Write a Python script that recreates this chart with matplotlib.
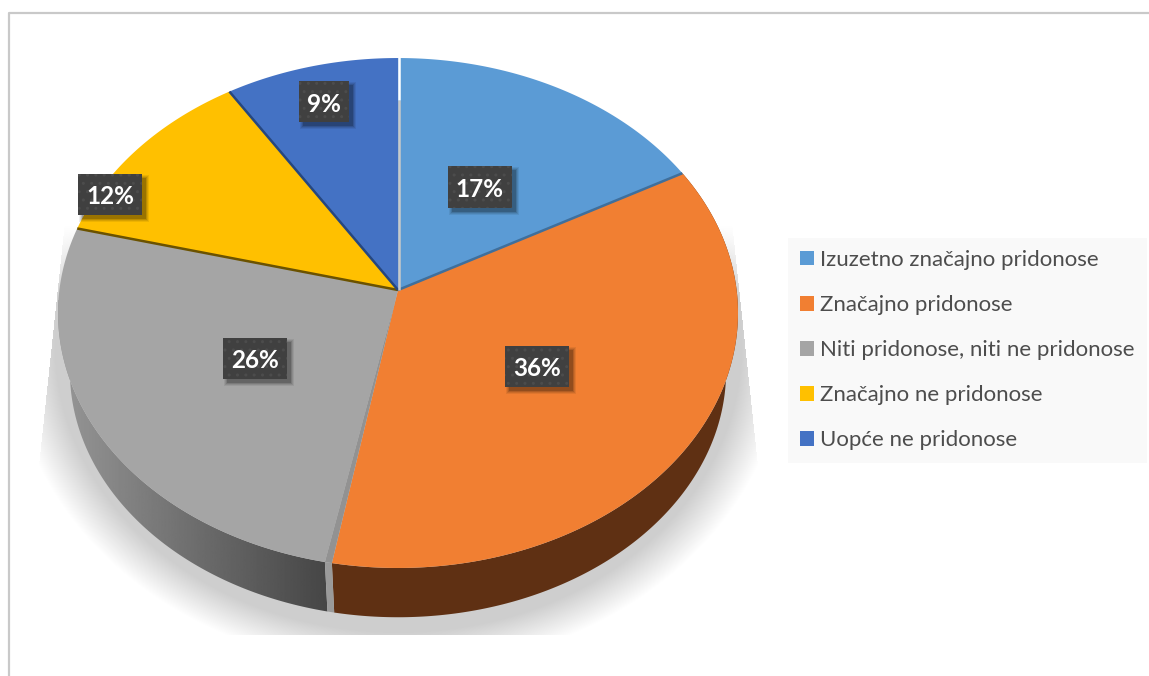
#Import necessary libraries
import numpy as np
import matplotlib.pyplot as plt
from matplotlib.patches import Patch, Polygon, Rectangle

categories = ['Izuzetno značajno pridonose', 'Značajno pridonose', 'Niti pridonose, niti ne pridonose',
              'Značajno ne pridonose', 'Uopće ne pridonose']
shares = [17, 36, 26, 12, 9]

colors = ['#5b9bd5', '#f17f32', '#a5a5a5', '#ffc000', '#4472c4']
rim_colors = ['#3f6f9c', None, '#6b5200', '#26477f', None]          #dark line on the slice edge
label_centres = [(479.5, 187), (537, 366.5), (255, 358.5), (110, 194.5), (324, 101.5)]

plt.rcParams['font.family'] = ['Lato', 'DejaVu Sans']
plt.rcParams['hatch.linewidth'] = 1.0

#Tilted disc: the apex is not the centre of the ellipse
APEX_X, APEX_Y = 398, 290
RX, RY, TILT = 338.6, 252.9, 0.0902
BOTTOM_SCALE, BOTTOM_SHIFT = 0.965, 59                              #lower rim is a bit smaller
GAP = 0.55                                                          #half angle of the gap orange/grey


def project(angle):
    a = np.radians(angle)
    u, v = np.sin(a), np.cos(a)
    w = 1 + TILT * v
    return APEX_X + RX * u / w, APEX_Y - RY * v / w


def arc(start, end):
    return project(np.linspace(start, end, 200))


def lower(x, y):
    return APEX_X + (x - APEX_X) * BOTTOM_SCALE, APEX_Y + (y - APEX_Y) * BOTTOM_SCALE + BOTTOM_SHIFT


fig = plt.figure(figsize=(11.49, 6.76), dpi=100)
ax = fig.add_axes([0, 0, 1, 1])

#Soft shadow below the pie
gx, gy = np.meshgrid(np.arange(0, 1149), np.arange(0, 676))
r = np.sqrt(((gx - 398) / 365) ** 2 + ((gy - 345) / 305) ** 2)
alpha = np.clip((1.06 - r) / 0.12, 0, 1) * np.clip((gy - 225) / 70, 0, 1)
left_edge = 54 - (gy - 320) * 16 / 150
right_edge = 742 + (gy - 320) * 16 / 150
alpha[(gx < left_edge) | (gx > right_edge) | (gy > 634) | (gy < 225)] = 0
shadow = np.zeros(gx.shape + (4,))
shadow[..., :3] = 0.81
shadow[..., 3] = alpha
ax.imshow(shadow, extent=(0, 1149, 676, 0), zorder=0, interpolation='bilinear')

#Frame of the chart
ax.plot([9, 9, 1149], [676, 13, 13], color='#c9c9c9', lw=1.6, zorder=1)

edges = np.cumsum([0] + shares) * 3.6
starts = edges[:-1].copy()
ends = edges[1:].copy()
ends[1] -= GAP
starts[2] += GAP

#Side walls of the two front slices
x, y = arc(starts[1], ends[1])
xl, yl = lower(x, y)
ax.fill(np.r_[x, xl[::-1]], np.r_[y, yl[::-1]], color='#5f3013', lw=0, zorder=2)

x, y = arc(starts[2], ends[2])
xl, yl = lower(x, y)
wall = Polygon(np.c_[np.r_[x, xl[::-1]], np.r_[y, yl[::-1]]], closed=True, transform=ax.transData)
ramp = np.linspace(0.27, 0.6, 256)[None, :]
im = ax.imshow(ramp, extent=(330, 50, 660, 300), cmap='gray', vmin=0, vmax=1, aspect='auto', zorder=2)
im.set_clip_path(wall)

#Cut face between the orange and the grey slice
xa, ya = project(ends[1])
xb, yb = project(starts[2])
xal, yal = lower(xa, ya)
xbl, ybl = lower(xb, yb)
ax.fill([xa, xb, xbl, xal], [ya, yb, ybl, yal], color='#9a9a9a', lw=0, zorder=2)

#Top of the pie
for i in range(len(shares)):
    x, y = arc(starts[i], ends[i])
    ax.fill(np.r_[APEX_X, x], np.r_[APEX_Y, y], color=colors[i], lw=0, zorder=3)
ax.fill([APEX_X, xa, xb], [APEX_Y, ya, yb], color='#929292', lw=0, zorder=3)

#Dark bevels on the slice edges
for i in range(len(shares)):
    if rim_colors[i] is not None:
        xe, ye = project(ends[i])
        ax.plot([APEX_X, xe], [APEX_Y, ye], color=rim_colors[i], lw=1.8, zorder=4, solid_capstyle='butt')
ax.plot([APEX_X + 0.5] * 2, [APEX_Y, 100], color='#c9c9c9', lw=1.8, zorder=4, solid_capstyle='butt')
ax.plot([APEX_X + 0.5] * 2, [100, 57], color='white', lw=1.8, zorder=4, solid_capstyle='butt')

#Percent labels
for share, (cx, cy) in zip(shares, label_centres):
    txt = f'{share}%'
    w = 50 if len(txt) == 2 else 64
    h = 41.5
    for grow, a in [(3, 0.07), (2, 0.09), (1, 0.12), (0, 0.18)]:
        ax.add_patch(Rectangle((cx - w / 2 + 4 - grow, cy - h / 2 + 4 - grow), w + 2 * grow, h + 2 * grow,
                               facecolor='black', alpha=a, lw=0, zorder=5))
    ax.add_patch(Rectangle((cx - w / 2, cy - h / 2), w, h, facecolor='#404040', edgecolor='#4c4c4c',
                           hatch='..', lw=0, zorder=6))
    ax.text(cx, cy + 2.5, txt, color='white', fontsize=17.5, fontweight='bold', ha='center', va='center', zorder=7)

ax.set_xlim(0, 1149)
ax.set_ylim(676, 0)
ax.axis('off')

#Legend
handles = [Patch(facecolor=c, edgecolor='none') for c in colors]
leg = ax.legend(handles, categories, loc='upper left', bbox_to_anchor=(788, 237.5), bbox_transform=ax.transData,
                fontsize=16, frameon=True, fancybox=False, framealpha=1, facecolor='#f9f9f9', edgecolor='none',
                borderaxespad=0, borderpad=0.56, handlelength=0.63, handleheight=0.63, handletextpad=0.27,
                labelspacing=1.13, labelcolor='#4d4d4d')
leg.set_zorder(8)

plt.savefig('out.png', dpi=100)
